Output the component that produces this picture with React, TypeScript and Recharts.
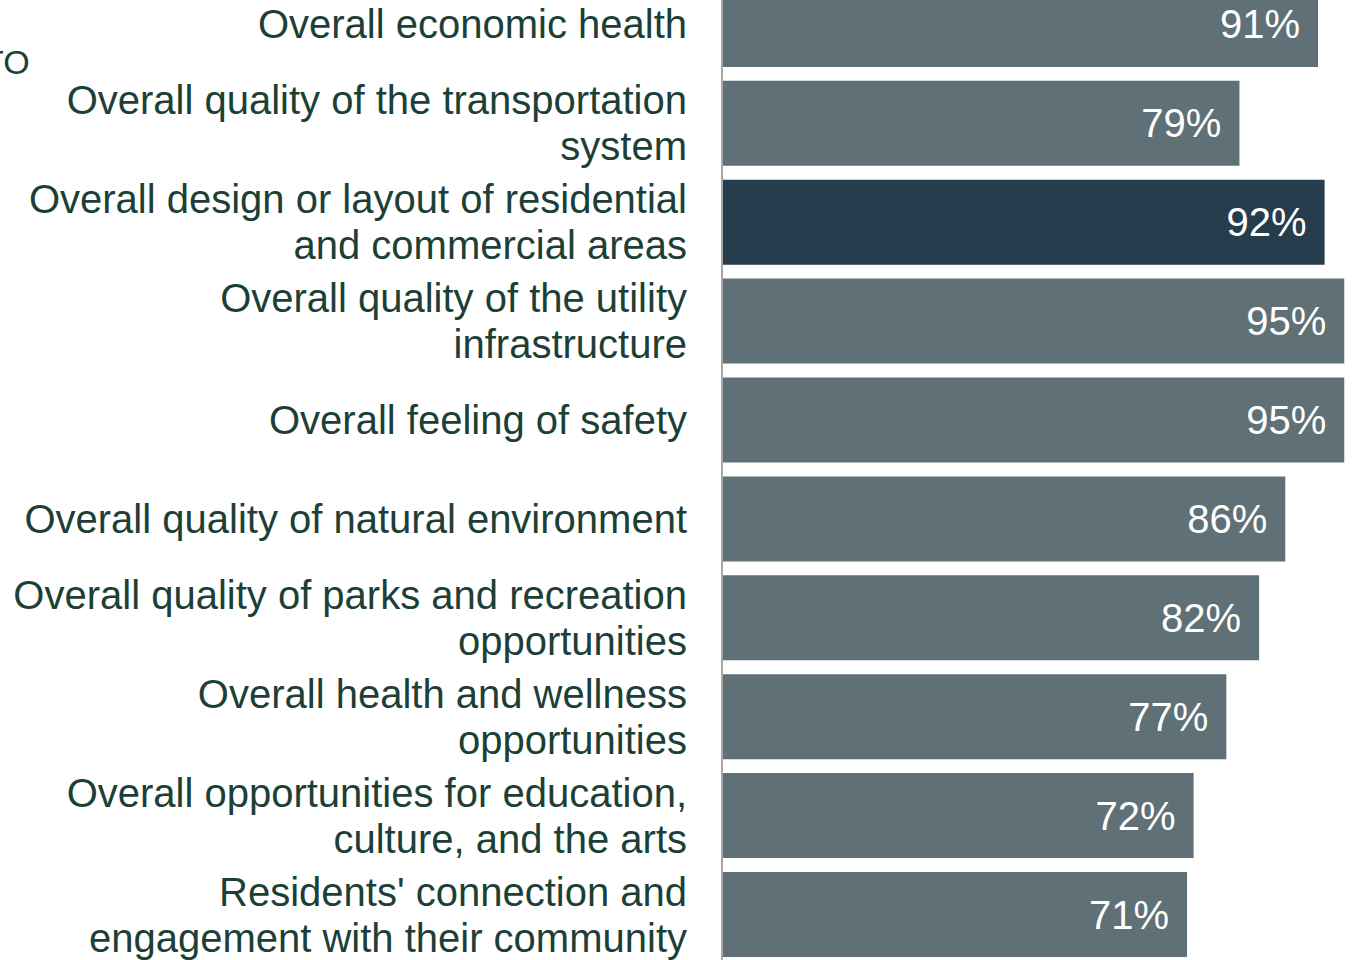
import React from "react";
import { BarChart, Bar, XAxis, YAxis, Cell, LabelList } from "recharts";

const categories = [
  "Overall economic health",
  "Overall quality of the transportation\nsystem",
  "Overall design or layout of residential\nand commercial areas",
  "Overall quality of the utility\ninfrastructure",
  "Overall feeling of safety",
  "Overall quality of natural environment",
  "Overall quality of parks and recreation\nopportunities",
  "Overall health and wellness\nopportunities",
  "Overall opportunities for education,\nculture, and the arts",
  "Residents' connection and\nengagement with their community",
];
const values = [91, 79, 92, 95, 95, 86, 82, 77, 72, 71];
const highlightIndex = 2;
const cutOffText = "TO";

const data = categories.map((name, i) => ({ name, value: values[i] }));

const FONT = "'Liberation Sans', Arial, sans-serif";
const TEXT_COLOR = "#1d4036";
const BAR_COLOR = "#5f7076";
const HIGHLIGHT = "#263d4d";

const CategoryTick = (props: any) => {
  const { x, y, payload } = props;
  const lines = String(payload.value).split("\n");
  const n = lines.length;
  return (
    <text x={x} y={y} textAnchor="end" fontFamily={FONT} fontSize={40} fill={TEXT_COLOR}>
      {lines.map((l, i) => (
        <tspan key={i} x={x} y={y + 14 + (i - (n - 1) / 2) * 46}>
          {l}
        </tspan>
      ))}
    </text>
  );
};

const ValueLabel = (props: any) => {
  const { x, y, width, height, value } = props;
  return (
    <text
      x={x + width - 18}
      y={y + height / 2 + 14}
      textAnchor="end"
      fontFamily={FONT}
      fontSize={40}
      fill="#ffffff"
    >
      {value}%
    </text>
  );
};

export default function App() {
  return (
    <div
      style={{
        position: "fixed",
        left: 0,
        top: 0,
        width: 1355,
        height: 960,
        overflow: "hidden",
        background: "#ffffff",
      }}
    >
      <div style={{ position: "absolute", left: 0, top: -25 }}>
        <BarChart
          width={1400}
          height={989}
          data={data}
          layout="vertical"
          margin={{ top: 0, right: 23, bottom: 0, left: 0 }}
          barCategoryGap="7%"
        >
          <XAxis type="number" domain={[0, 100]} hide />
          <YAxis
            type="category"
            dataKey="name"
            width={722}
            tickLine={false}
            tickSize={0}
            tickMargin={35}
            axisLine={{ stroke: "#a6a6a6", strokeWidth: 2 }}
            tick={<CategoryTick />}
            interval={0}
          />
          <Bar dataKey="value" isAnimationActive={false}>
            {data.map((_, i) => (
              <Cell key={i} fill={i === highlightIndex ? HIGHLIGHT : BAR_COLOR} />
            ))}
            <LabelList dataKey="value" content={<ValueLabel />} />
          </Bar>
        </BarChart>
      </div>
      <svg
        width={60}
        height={100}
        style={{ position: "absolute", left: 0, top: 0 }}
      >
        <text x={-17} y={74} fontFamily={FONT} fontSize={34} fill={TEXT_COLOR}>
          {cutOffText}
        </text>
      </svg>
    </div>
  );
}
